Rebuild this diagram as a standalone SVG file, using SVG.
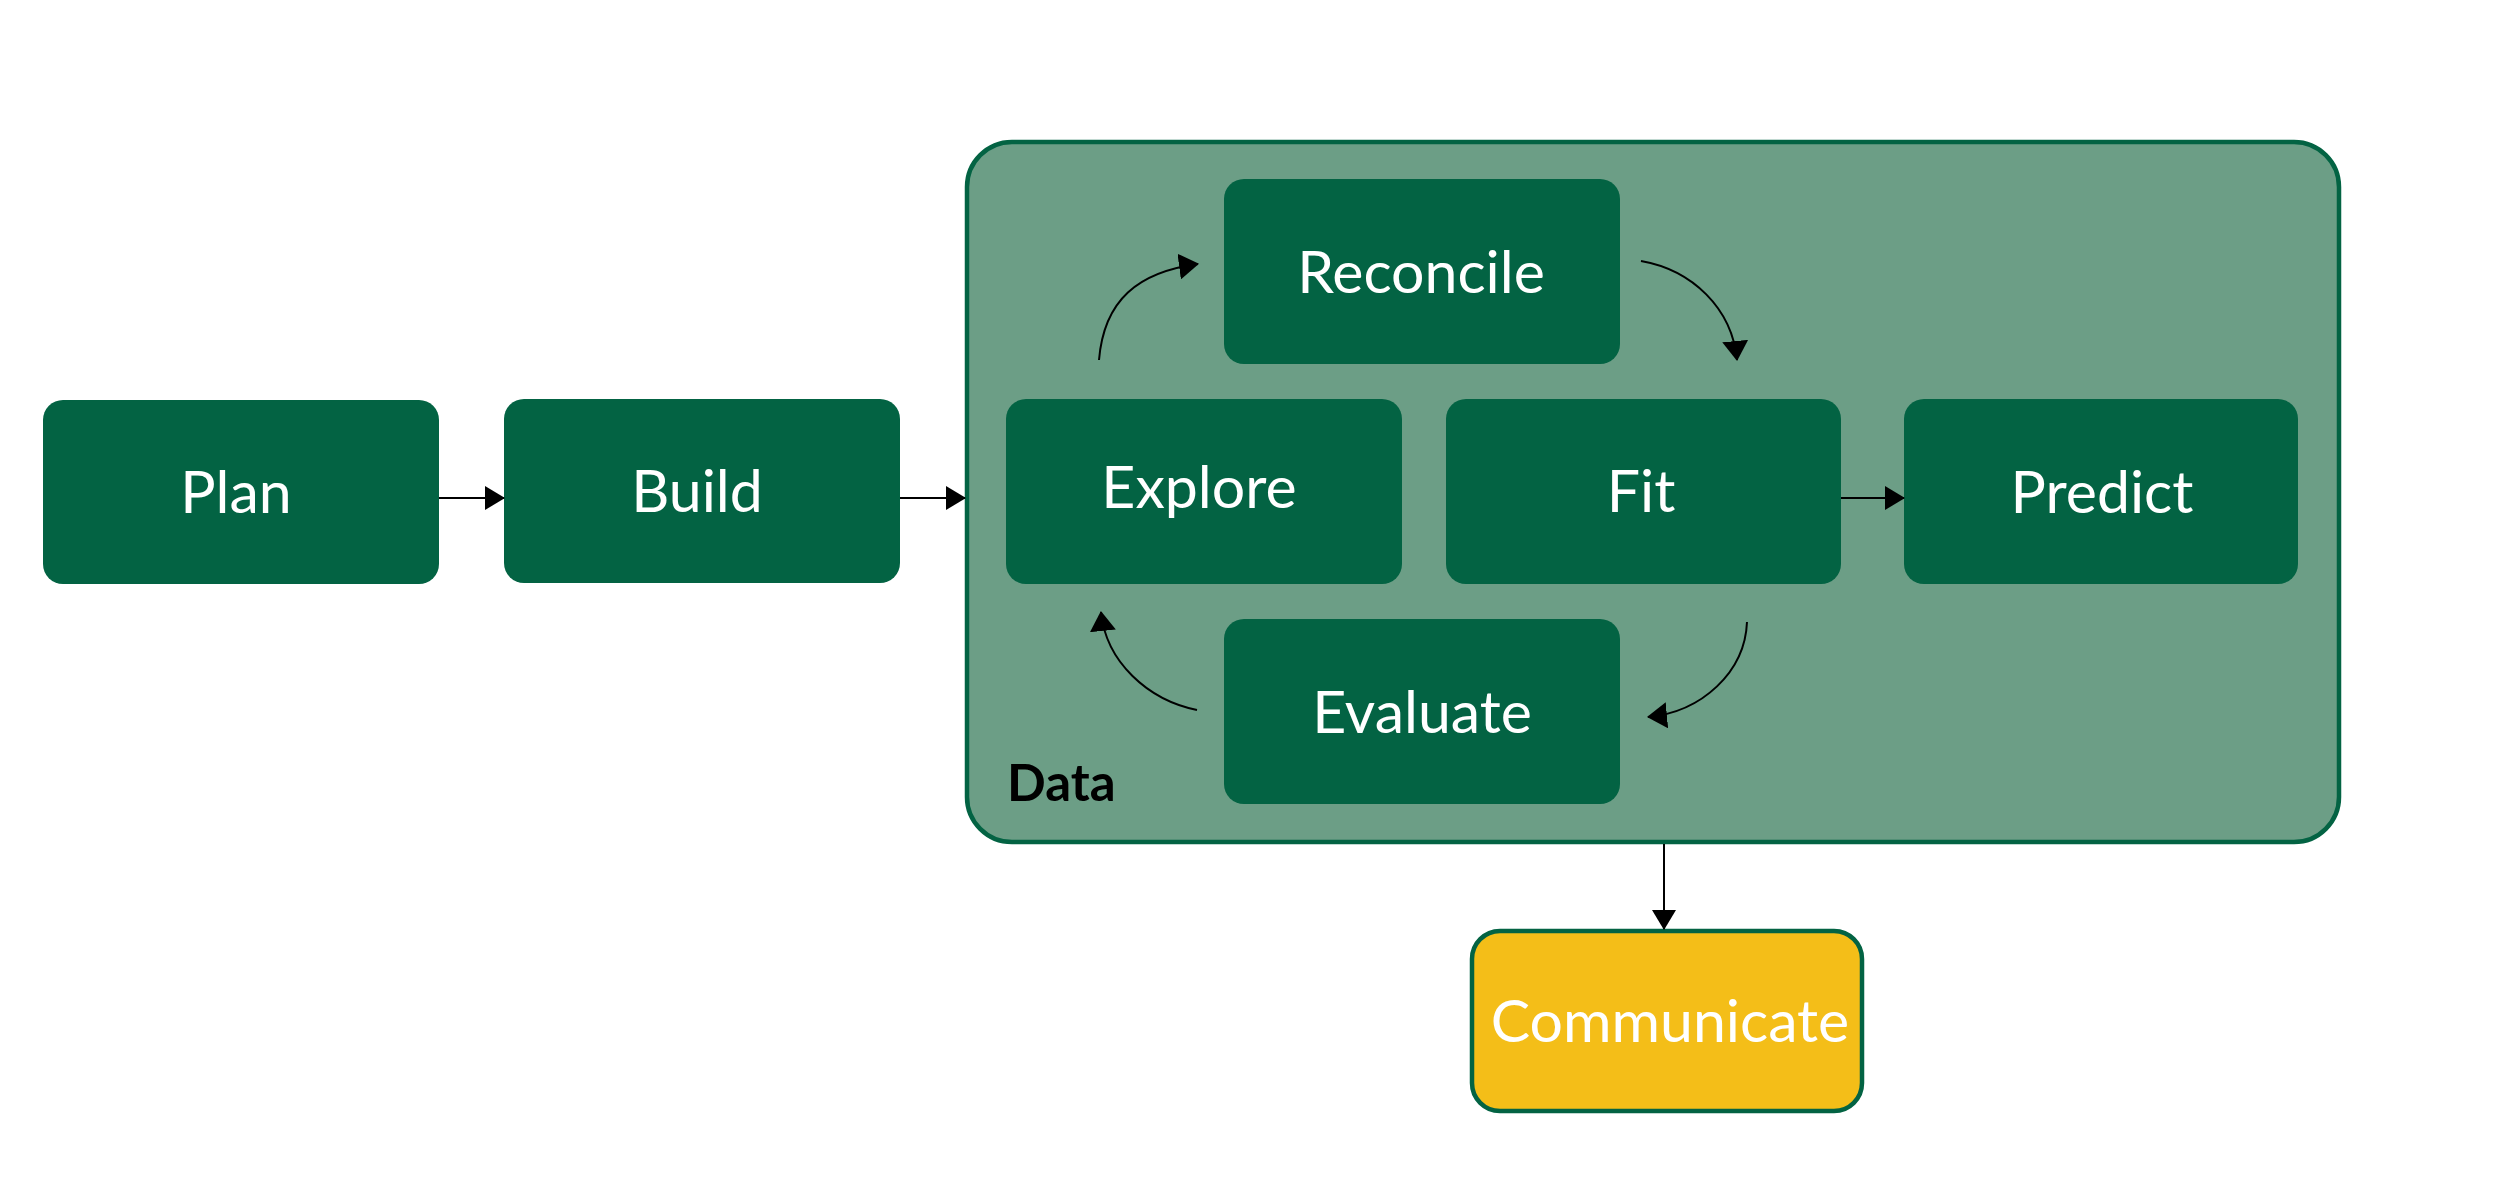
<svg xmlns="http://www.w3.org/2000/svg" width="2500" height="1200" viewBox="0 0 2500 1200">
  <defs>
    <style>
      .step { fill: #036343; }
      .label { fill: #ffffff; font-family: Lato, "Liberation Sans", sans-serif; font-size: 59px; text-anchor: middle; }
      .link { fill: none; stroke: #000000; stroke-width: 2; }
    </style>
    <marker id="head" markerUnits="userSpaceOnUse" markerWidth="20" markerHeight="24" refX="19" refY="12" orient="auto">
      <path d="M0,0 L20,12 L0,24 z" fill="#000000"/>
    </marker>
    <marker id="curvehead" markerUnits="userSpaceOnUse" markerWidth="20" markerHeight="26" refX="19" refY="13" orient="auto">
      <path d="M0,0 L20,13 L0,26 z" fill="#000000"/>
    </marker>
  </defs>
  <rect width="2500" height="1200" fill="#ffffff"/>

  <!-- Data container -->
  <g id="data">
    <rect x="967" y="142" width="1372" height="700" rx="45" ry="45" fill="#6c9e86" stroke="#036343" stroke-width="4.5"/>
    <text x="1007" y="801" font-family="Lato, 'Liberation Sans', sans-serif" font-size="51" font-weight="bold" fill="#000000">Data</text>
  </g>

  <g id="plan">
    <rect class="step" x="43" y="400" width="396" height="184" rx="20"/>
    <text class="label" x="236" y="513">Plan</text>
  </g>
  <g id="build">
    <rect class="step" x="504" y="399" width="396" height="184" rx="20"/>
    <text class="label" x="697" y="512">Build</text>
  </g>
  <g id="reconcile">
    <rect class="step" x="1224" y="179" width="396" height="185" rx="20"/>
    <text class="label" x="1421" y="293">Reconcile</text>
  </g>
  <g id="explore">
    <rect class="step" x="1006" y="399" width="396" height="185" rx="20"/>
    <text class="label" x="1199" y="508">Explore</text>
  </g>
  <g id="fit">
    <rect class="step" x="1446" y="399" width="395" height="185" rx="20"/>
    <text class="label" x="1641" y="512">Fit</text>
  </g>
  <g id="predict">
    <rect class="step" x="1904" y="399" width="394" height="185" rx="20"/>
    <text class="label" x="2102" y="513">Predict</text>
  </g>
  <g id="evaluate">
    <rect class="step" x="1224" y="619" width="396" height="185" rx="20"/>
    <text class="label" x="1422" y="733">Evaluate</text>
  </g>
  <g id="communicate">
    <rect x="1472" y="931" width="390" height="180" rx="28" fill="#f4be18" stroke="#036343" stroke-width="4.5"/>
    <text class="label" x="1670" y="1042">Communicate</text>
  </g>

  <!-- Connectors -->
  <g id="connectors">
    <path class="link" d="M439,498 L504,498" marker-end="url(#head)"/>
    <path class="link" d="M900,498 L965,498" marker-end="url(#head)"/>
    <path class="link" d="M1841,498 L1904,498" marker-end="url(#head)"/>
    <path class="link" d="M1664,844 L1664,929" marker-end="url(#head)"/>
    <path class="link" d="M1099,360 C1104,300 1138,272 1198,264" marker-end="url(#curvehead)"/>
    <path class="link" d="M1641,261 C1692,270 1732,308 1737,360" marker-end="url(#curvehead)"/>
    <path class="link" d="M1747,622 C1745,672 1702,712 1648,717" marker-end="url(#curvehead)"/>
    <path class="link" d="M1197,710 C1148,700 1106,662 1101,612" marker-end="url(#curvehead)"/>
  </g>
</svg>
